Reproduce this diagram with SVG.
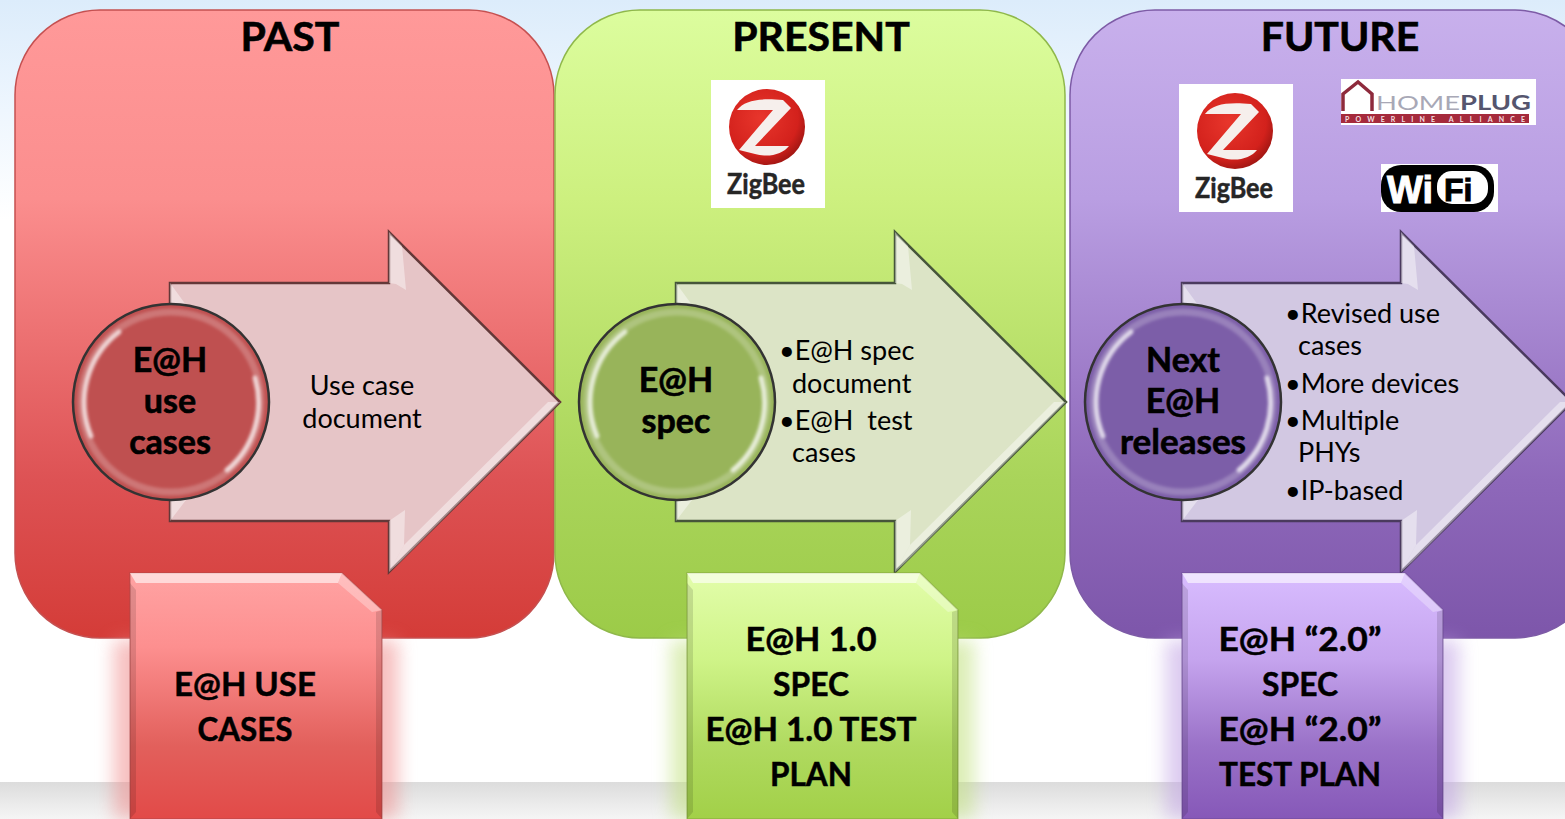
<svg xmlns="http://www.w3.org/2000/svg" xmlns:xlink="http://www.w3.org/1999/xlink" width="1565" height="819" viewBox="0 0 1565 819">
<style>
text{font-family:Lato,"Open Sans","Liberation Sans",sans-serif;fill:#000}
.t{font-weight:700;font-size:41px;text-anchor:middle;stroke:#000;stroke-width:.6}
.c{font-weight:700;font-size:34px;text-anchor:middle;stroke:#000;stroke-width:.6}
.n{font-weight:700;font-size:33px;text-anchor:middle;stroke:#000;stroke-width:.5}
.a{font-size:27px;white-space:pre}
.m{text-anchor:middle}
.arrow{stroke-width:2.5;stroke-linejoin:miter}
.circ{stroke:#333;stroke-width:2.5}
.shine{fill:none;stroke:#fff;stroke-opacity:.7;stroke-width:5;stroke-linecap:round}
.ring{fill:none;stroke:#fff;stroke-opacity:.22;stroke-width:7}
.bevel{fill:#fff;fill-opacity:.42}
.zb{font-weight:700;font-size:28px;text-anchor:middle;fill:#262626;stroke:#262626;stroke-width:.5}
.edge{fill:#000;fill-opacity:.12}
</style>
<defs>
<linearGradient id="bgTop" x1="0" y1="0" x2="0" y2="1"><stop offset="0" stop-color="#dcecfb"/><stop offset=".5" stop-color="#eef6fe"/><stop offset="1" stop-color="#fff"/></linearGradient>
<linearGradient id="bgBot" x1="0" y1="0" x2="0" y2="1"><stop offset="0" stop-color="#dcdcdc"/><stop offset="1" stop-color="#f5f5f5"/></linearGradient>
<linearGradient id="pR" x1="0" y1="0" x2="0" y2="1"><stop offset="0" stop-color="#ff9999"/><stop offset=".3" stop-color="#fb8e8e"/><stop offset=".75" stop-color="#dd5254"/><stop offset="1" stop-color="#d43c38"/></linearGradient>
<linearGradient id="pG" x1="0" y1="0" x2="0" y2="1"><stop offset="0" stop-color="#dcfd9e"/><stop offset=".3" stop-color="#cdf07f"/><stop offset=".75" stop-color="#a9d45a"/><stop offset="1" stop-color="#9ccb48"/></linearGradient>
<linearGradient id="pP" x1="0" y1="0" x2="0" y2="1"><stop offset="0" stop-color="#c8b0ec"/><stop offset=".3" stop-color="#b99ee2"/><stop offset=".75" stop-color="#8e68ba"/><stop offset="1" stop-color="#7d56aa"/></linearGradient>
<linearGradient id="nR" x1="0" y1="0" x2="0" y2="1"><stop offset="0" stop-color="#ffa3a3"/><stop offset=".3" stop-color="#fd8f8f"/><stop offset=".7" stop-color="#e2605c"/><stop offset="1" stop-color="#e24a48"/></linearGradient>
<linearGradient id="nG" x1="0" y1="0" x2="0" y2="1"><stop offset="0" stop-color="#e2fdaa"/><stop offset=".35" stop-color="#cff488"/><stop offset=".7" stop-color="#b0da60"/><stop offset="1" stop-color="#a2d048"/></linearGradient>
<linearGradient id="nP" x1="0" y1="0" x2="0" y2="1"><stop offset="0" stop-color="#d8bcff"/><stop offset=".35" stop-color="#c5a4ee"/><stop offset=".7" stop-color="#9a72c8"/><stop offset="1" stop-color="#8658b8"/></linearGradient>
<radialGradient id="zRed" cx=".42" cy=".38" r=".7"><stop offset="0" stop-color="#e8362c"/><stop offset=".7" stop-color="#d3211c"/><stop offset="1" stop-color="#8e120f"/></radialGradient>
<filter id="glow" x="-20%" y="-20%" width="140%" height="140%"><feGaussianBlur stdDeviation="9"/></filter>
<filter id="soft" x="-20%" y="-20%" width="140%" height="140%"><feGaussianBlur stdDeviation="1.4"/></filter>
<path id="arrowShape" d="M170 283H389V232L560 402L389 572V521H170Z"/>
<g id="zigbee">
<rect fill="#fff" width="114" height="128"/>
<circle cx="56" cy="47" r="38" fill="url(#zRed)"/>
<path d="M26 30C34 20 48 18 72 20L80 28L44 66H78C72 74 58 78 44 74L28 70L62 30Z" fill="#f6efec"/>
<text class="zb" x="55" y="114" textLength="78" lengthAdjust="spacingAndGlyphs">ZigBee</text>
</g>
<g id="arrowBevel">
<path class="bevel" d="M389 232L402 246L406 290L396 284L389 283Z"/>
<path class="bevel" d="M389 572L404 545L548 402H560L400 562Z"/>
<path class="bevel" d="M404 545L405 510L389 521V572Z"/>
<path class="bevel" d="M170 283L186 305H170Z"/>
<path class="bevel" d="M170 521L186 500H170Z"/>
</g>
<g id="gloss" filter="url(#soft)">
<circle class="ring" cx="0" cy="0" r="90"/>
<path class="shine" d="M-80 34A88 88 0 0 1 -52 -70"/>
<path class="shine" d="M84 -24A88 88 0 0 1 56 68"/>
</g>
</defs>

<rect width="1565" height="819" fill="#fff"/>
<rect width="1565" height="220" fill="url(#bgTop)"/>
<rect y="782" width="1565" height="37" fill="url(#bgBot)"/>

<g id="panel-past">
<rect x="15" y="10" width="539" height="628" rx="85" fill="url(#pR)" stroke="#c55050" stroke-width="1.5"/>
<text class="t" x="290" y="51">PAST</text>
</g>
<g id="panel-present">
<rect x="555" y="10" width="510" height="628" rx="85" fill="url(#pG)" stroke="#8fb84a" stroke-width="1.5"/>
<text class="t" x="821" y="51">PRESENT</text>
<use xlink:href="#zigbee" href="#zigbee" x="711" y="80"/>
</g>
<g id="panel-future">
<rect x="1070" y="10" width="530" height="628" rx="85" fill="url(#pP)" stroke="#7d5ba6" stroke-width="1.5"/>
<text class="t" x="1340" y="51">FUTURE</text>
<use xlink:href="#zigbee" href="#zigbee" x="1179" y="84"/>
</g>

<g id="logo-homeplug">
<rect x="1341" y="79" width="195" height="46" fill="#fff"/>
<path d="M1343 111V94L1358 82L1372 94V111" fill="none" stroke="#8e2a3c" stroke-width="3.5"/>
<text x="1376" y="110" font-size="20" textLength="155" lengthAdjust="spacingAndGlyphs" style="fill:#a8a8b6">HOME<tspan font-weight="700" style="fill:#55556e">PLUG</tspan></text>
<rect x="1341" y="114" width="188" height="9" fill="#a52a3c"/>
<text x="1345" y="122" font-size="7" font-weight="700" textLength="180" style="fill:#f4dfe0">POWERLINE ALLIANCE</text>
</g>
<g id="logo-wifi" style="font-family:'Liberation Sans',sans-serif">
<rect x="1381" y="164" width="117" height="48" fill="#fff"/>
<rect x="1381" y="165" width="113" height="47" rx="20" fill="#000"/>
<rect x="1437" y="171" width="51" height="33" rx="15" fill="#fff"/>
<text x="1387" y="203" font-size="38" font-weight="700" style="fill:#fff;stroke:#fff;stroke-width:1;font-family:'Liberation Sans',sans-serif">Wi</text>
<text x="1444" y="201" font-size="32" font-weight="700" style="fill:#000;stroke:#000;stroke-width:1;font-family:'Liberation Sans',sans-serif">Fi</text>
</g>

<g id="arrow-past">
<use xlink:href="#arrowShape" href="#arrowShape" class="arrow" fill="#e6c5c7" stroke="#633838"/>
<use xlink:href="#arrowBevel" href="#arrowBevel"/>
<text class="a m" x="362" y="395">Use case</text>
<text class="a m" x="362" y="428">document</text>
</g>
<g id="arrow-present" transform="translate(506 0)">
<use xlink:href="#arrowShape" href="#arrowShape" class="arrow" fill="#dce4c6" stroke="#46553a"/>
<use xlink:href="#arrowBevel" href="#arrowBevel"/>
<text class="a" x="273" y="360">•E@H spec</text>
<text class="a" x="286" y="393">document</text>
<text class="a" x="273" y="430">•E@H  test</text>
<text class="a" x="286" y="462">cases</text>
</g>
<g id="arrow-future" transform="translate(1012 0)">
<use xlink:href="#arrowShape" href="#arrowShape" class="arrow" fill="#d2c8e2" stroke="#4a3a5e"/>
<use xlink:href="#arrowBevel" href="#arrowBevel"/>
<text class="a" x="273" y="323">•Revised use</text>
<text class="a" x="286" y="355">cases</text>
<text class="a" x="273" y="393">•More devices</text>
<text class="a" x="273" y="430">•Multiple</text>
<text class="a" x="286" y="462">PHYs</text>
<text class="a" x="273" y="500">•IP-based</text>
</g>

<g id="circle-past">
<circle class="circ" cx="171" cy="402" r="98" fill="#bf5050"/>
<use xlink:href="#gloss" href="#gloss" x="171" y="402"/>
<text class="c" x="170" y="372">E@H</text><text class="c" x="170" y="413">use</text><text class="c" x="170" y="454">cases</text>
</g>
<g id="circle-present">
<circle class="circ" cx="677" cy="402" r="98" fill="#98b45a"/>
<use xlink:href="#gloss" href="#gloss" x="677" y="402"/>
<text class="c" x="676" y="392">E@H</text><text class="c" x="676" y="433">spec</text>
</g>
<g id="circle-future">
<circle class="circ" cx="1183" cy="402" r="98" fill="#7c5ea8"/>
<use xlink:href="#gloss" href="#gloss" x="1183" y="402"/>
<text class="c" x="1183" y="372">Next</text><text class="c" x="1183" y="413">E@H</text><text class="c" x="1183" y="454" textLength="126" lengthAdjust="spacingAndGlyphs">releases</text>
</g>

<g id="note-past">
<rect x="114" y="640" width="284" height="179" fill="#f08a8a" opacity=".55" filter="url(#glow)"/>
<path d="M130 573H342L382 610V819H130Z" fill="url(#nR)" stroke="#a84a4a" stroke-opacity=".5" stroke-width="1.5"/>
<path d="M130 573H342L338 583H136Z" fill="#fff" fill-opacity=".6"/>
<path d="M342 573L382 610L372 612L338 583Z" fill="#fff" fill-opacity=".3"/>
<path class="edge" d="M130 583L136 590V812L130 819ZM382 610L376 612V812L382 819Z"/>
<text class="n" x="245" y="696">E@H USE</text><text class="n" x="245" y="741" textLength="95" lengthAdjust="spacingAndGlyphs">CASES</text>
</g>
<g id="note-present">
<rect x="671" y="640" width="303" height="179" fill="#bfe07a" opacity=".55" filter="url(#glow)"/>
<path d="M687 573H920L958 610V819H687Z" fill="url(#nG)" stroke="#7d9a3c" stroke-opacity=".5" stroke-width="1.5"/>
<path d="M687 573H920L916 583H693Z" fill="#fff" fill-opacity=".6"/>
<path d="M920 573L958 610L948 612L916 583Z" fill="#fff" fill-opacity=".3"/>
<path class="edge" d="M687 583L693 590V812L687 819ZM958 610L952 612V812L958 819Z"/>
<text class="n" x="811" y="651" textLength="131" lengthAdjust="spacingAndGlyphs">E@H 1.0</text><text class="n" x="811" y="696" textLength="76" lengthAdjust="spacingAndGlyphs">SPEC</text><text class="n" x="811" y="741" textLength="211" lengthAdjust="spacingAndGlyphs">E@H 1.0 TEST</text><text class="n" x="811" y="786" textLength="82" lengthAdjust="spacingAndGlyphs">PLAN</text>
</g>
<g id="note-future">
<rect x="1166" y="640" width="293" height="179" fill="#c0a0e4" opacity=".55" filter="url(#glow)"/>
<path d="M1182 573H1405L1443 610V819H1182Z" fill="url(#nP)" stroke="#6a4a90" stroke-opacity=".5" stroke-width="1.5"/>
<path d="M1182 573H1405L1401 583H1188Z" fill="#fff" fill-opacity=".6"/>
<path d="M1405 573L1443 610L1433 612L1401 583Z" fill="#fff" fill-opacity=".3"/>
<path class="edge" d="M1182 583L1188 590V812L1182 819ZM1443 610L1437 612V812L1443 819Z"/>
<text class="n" x="1300" y="651" textLength="163" lengthAdjust="spacingAndGlyphs">E@H “2.0”</text><text class="n" x="1300" y="696" textLength="76" lengthAdjust="spacingAndGlyphs">SPEC</text><text class="n" x="1300" y="741" textLength="163" lengthAdjust="spacingAndGlyphs">E@H “2.0”</text><text class="n" x="1300" y="786" textLength="162" lengthAdjust="spacingAndGlyphs">TEST PLAN</text>
</g>
</svg>
